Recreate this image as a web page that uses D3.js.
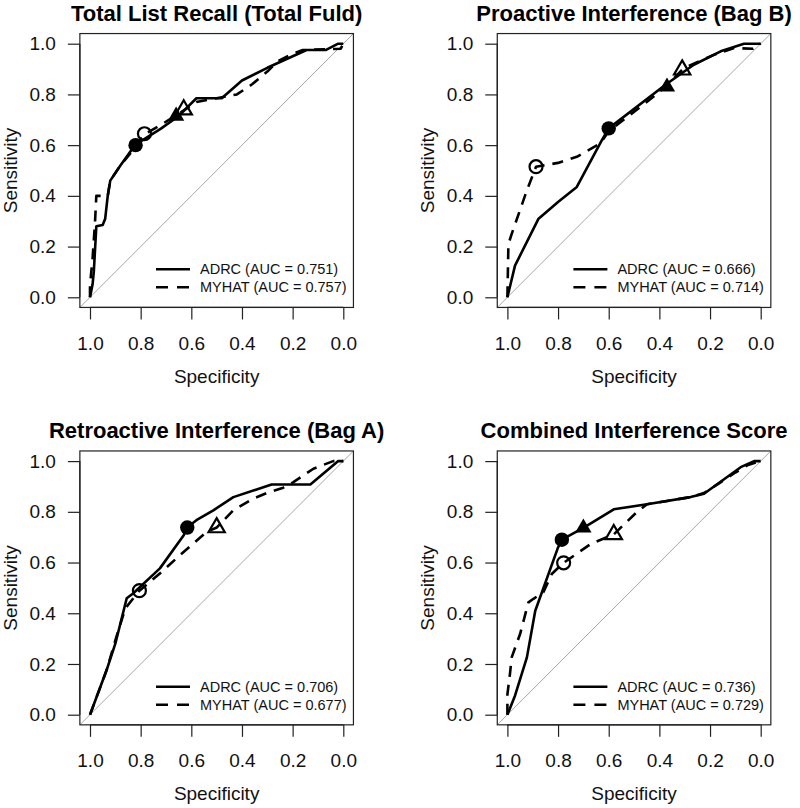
<!DOCTYPE html>
<html><head><meta charset="utf-8">
<script src="https://cdn.jsdelivr.net/npm/d3@7"></script>
<style>body{margin:0;background:#fff}</style>
</head><body>
<script>
// ---------- data ----------
const panelTitles = ["Total List Recall (Total Fuld)", "Proactive Interference (Bag B)",
  "Retroactive Interference (Bag A)", "Combined Interference Score"];
const seriesNames = ["ADRC", "MYHAT"];
const adrcAUC = ["0.751", "0.666", "0.706", "0.736"];
const myhatAUC = ["0.757", "0.714", "0.677", "0.729"];
const tickValues = [1.0, 0.8, 0.6, 0.4, 0.2, 0.0];

// [specificity, sensitivity]
const totalAdrc = [[1,0],[0.99,0.05],[0.985,0.10],[0.975,0.28],[0.95,0.285],[0.94,0.31],[0.93,0.40],[0.92,0.46],[0.88,0.52],[0.83,0.59],[0.80,0.615],[0.72,0.665],[0.65,0.715],[0.62,0.745],[0.58,0.785],[0.48,0.785],[0.40,0.855],[0.30,0.905],[0.145,0.975],[0.07,0.975],[0.02,1.0],[0,1]];
const totalMyhat = [[1,0],[1,0.05],[0.99,0.15],[0.98,0.30],[0.975,0.40],[0.93,0.40],[0.92,0.46],[0.88,0.52],[0.83,0.58],[0.80,0.625],[0.78,0.645],[0.72,0.68],[0.64,0.73],[0.58,0.77],[0.50,0.785],[0.42,0.80],[0.36,0.84],[0.30,0.89],[0.26,0.93],[0.20,0.96],[0.16,0.975],[0.01,0.98],[0,1]];

const proAdrc = [[1,0],[0.97,0.125],[0.877,0.31],[0.80,0.376],[0.726,0.435],[0.627,0.62],[0.60,0.666],[0.376,0.838],[0.264,0.917],[0.158,0.97],[0.066,1.0],[0,1]];
const proMyhat = [[1,0],[0.996,0.21],[0.983,0.25],[0.923,0.422],[0.887,0.515],[0.80,0.53],[0.726,0.554],[0.633,0.607],[0.60,0.655],[0.45,0.77],[0.37,0.835],[0.31,0.897],[0.29,0.91],[0.185,0.956],[0.105,0.983],[0.03,0.98],[0,1]];

const retroAdrc = [[1,0],[0.934,0.177],[0.90,0.28],[0.855,0.459],[0.83,0.478],[0.724,0.577],[0.63,0.708],[0.616,0.738],[0.58,0.767],[0.513,0.806],[0.434,0.858],[0.283,0.908],[0.13,0.908],[0.02,1.0],[0,1]];
const retroMyhat = [[1,0],[0.934,0.177],[0.895,0.31],[0.86,0.42],[0.805,0.489],[0.717,0.563],[0.645,0.629],[0.54,0.72],[0.50,0.738],[0.434,0.806],[0.355,0.852],[0.30,0.875],[0.237,0.895],[0.197,0.917],[0.118,0.97],[0.04,1.0],[0,1]];

const combAdrc = [[1,0],[0.97,0.075],[0.923,0.226],[0.89,0.41],[0.80,0.66],[0.785,0.69],[0.70,0.737],[0.58,0.81],[0.449,0.83],[0.277,0.858],[0.224,0.871],[0.079,0.976],[0.026,1.0],[0,1]];
const combMyhat = [[1,0],[1,0.08],[0.99,0.16],[0.983,0.226],[0.95,0.318],[0.917,0.443],[0.897,0.457],[0.858,0.483],[0.825,0.555],[0.778,0.599],[0.67,0.674],[0.58,0.711],[0.488,0.80],[0.449,0.83],[0.277,0.858],[0.224,0.874],[0.16,0.915],[0.10,0.955],[0.05,0.985],[0,1]];

// markers [spec, sens]
const adrcCircle = [[0.82,0.60],[0.60,0.666],[0.616,0.738],[0.785,0.69]];
const myhatCircle = [[0.785,0.645],[0.887,0.515],[0.805,0.489],[0.778,0.599]];
const adrcTriangle = [[0.66,0.715],[0.37,0.83],null,[0.70,0.737]];
const myhatTriangle = [[0.63,0.74],[0.31,0.897],[0.50,0.738],[0.58,0.711]];

const adrcCurves = [totalAdrc, proAdrc, retroAdrc, combAdrc];
const myhatCurves = [totalMyhat, proMyhat, retroMyhat, combMyhat];

// ---------- drawing ----------
const W = 800, H = 808;
const font = "'Liberation Sans', Arial, Helvetica, sans-serif";
const svg = d3.select("body").append("svg").attr("width", W).attr("height", H)
  .style("font-family", font);

const step = 417.4;
const x = d3.scaleLinear().domain([1, 0]).range([90, 343.3]);
const y = d3.scaleLinear().domain([0, 1]).range([297.3, 43.7]);
const line = d3.line().x(d => x(d[0])).y(d => y(d[1]));

for (let i = 0; i < 4; i++) {
  const g = svg.append("g")
    .attr("transform", `translate(${(i % 2) * step},${Math.floor(i / 2) * step})`);
  const x0 = x(1.04), x1 = x(-0.04), y0 = y(-0.04), y1 = y(1.04);

  const clipId = "clip" + i;
  g.append("clipPath").attr("id", clipId).append("rect")
    .attr("x", x0).attr("y", y1).attr("width", x1 - x0).attr("height", y0 - y1);

  // diagonal
  g.append("line").attr("clip-path", `url(#${clipId})`)
    .attr("x1", x(1.04)).attr("y1", y(-0.04)).attr("x2", x(-0.04)).attr("y2", y(1.04))
    .attr("stroke", "#a8a8a8").attr("stroke-width", 1);

  // curves
  g.append("path").datum(myhatCurves[i]).attr("d", line)
    .attr("fill", "none").attr("stroke", "#000").attr("stroke-width", 2.6)
    .attr("stroke-dasharray", "11,8").attr("stroke-linejoin", "round");
  g.append("path").datum(adrcCurves[i]).attr("d", line)
    .attr("fill", "none").attr("stroke", "#000").attr("stroke-width", 2.6)
    .attr("stroke-linejoin", "round");

  // markers
  const tri = d3.symbol().type(d3.symbolTriangle).size(115);
  if (adrcCircle[i]) g.append("circle").attr("cx", x(adrcCircle[i][0])).attr("cy", y(adrcCircle[i][1]))
    .attr("r", 7.2).attr("fill", "#000");
  if (myhatCircle[i]) g.append("circle").attr("cx", x(myhatCircle[i][0])).attr("cy", y(myhatCircle[i][1]))
    .attr("r", 6.5).attr("fill", "none").attr("stroke", "#000").attr("stroke-width", 2.2);
  if (adrcTriangle[i]) g.append("path").attr("d", tri)
    .attr("transform", `translate(${x(adrcTriangle[i][0])},${y(adrcTriangle[i][1])})`)
    .attr("fill", "#000");
  if (myhatTriangle[i]) g.append("path").attr("d", tri)
    .attr("transform", `translate(${x(myhatTriangle[i][0])},${y(myhatTriangle[i][1])})`)
    .attr("fill", "none").attr("stroke", "#000").attr("stroke-width", 2.2);

  // box
  g.append("rect").attr("x", x0).attr("y", y1).attr("width", x1 - x0).attr("height", y0 - y1)
    .attr("fill", "none").attr("stroke", "#222").attr("stroke-width", 1.2);

  // axes
  const xAxis = d3.axisBottom(x).tickValues(tickValues).tickFormat(d3.format(".1f"))
    .tickSize(12).tickPadding(6);
  const gx = g.append("g").attr("transform", `translate(0,${y0})`).call(xAxis);
  gx.select(".domain").attr("d", `M${x(1)},0H${x(0)}`).attr("stroke", "#222").attr("stroke-width", 1.2);
  gx.selectAll(".tick line").attr("stroke", "#222").attr("stroke-width", 1.2);
  gx.selectAll(".tick text").attr("font-size", 19).attr("font-family", font).attr("fill", "#111")
    .attr("y", 350 - y0).attr("dy", 0);

  const yAxis = d3.axisLeft(y).tickValues(tickValues).tickFormat(d3.format(".1f"))
    .tickSize(12).tickPadding(12);
  const gy = g.append("g").attr("transform", `translate(${x0},0)`).call(yAxis);
  gy.select(".domain").attr("d", `M0,${y(0)}V${y(1)}`).attr("stroke", "#222").attr("stroke-width", 1.2);
  gy.selectAll(".tick line").attr("stroke", "#222").attr("stroke-width", 1.2);
  gy.selectAll(".tick text").attr("font-size", 19).attr("font-family", font).attr("fill", "#111");

  // titles
  const cx = (x0 + x1) / 2;
  g.append("text").attr("x", cx).attr("y", 20.5).attr("text-anchor", "middle")
    .attr("font-size", 22).attr("font-weight", "bold").attr("fill", "#000").text(panelTitles[i]);
  g.append("text").attr("x", cx).attr("y", 383).attr("text-anchor", "middle")
    .attr("font-size", 19).attr("fill", "#111").text("Specificity");
  g.append("text").attr("transform", `translate(16.5,${(y0 + y1) / 2}) rotate(-90)`)
    .attr("text-anchor", "middle").attr("font-size", 19).attr("fill", "#111").text("Sensitivity");

  // legend
  const leg = [
    { name: `${seriesNames[0]} (AUC = ${adrcAUC[i]})`, dash: null, yy: 269.3 },
    { name: `${seriesNames[1]} (AUC = ${myhatAUC[i]})`, dash: "12,9", yy: 287.3 }
  ];
  leg.forEach(l => {
    g.append("line").attr("x1", 156).attr("x2", 190).attr("y1", l.yy).attr("y2", l.yy)
      .attr("stroke", "#000").attr("stroke-width", 2.6)
      .attr("stroke-dasharray", l.dash);
    g.append("text").attr("x", 200).attr("y", l.yy).attr("dy", "0.35em")
      .attr("font-size", 14.5).attr("fill", "#111").text(l.name);
  });
}
</script>
</body></html>
